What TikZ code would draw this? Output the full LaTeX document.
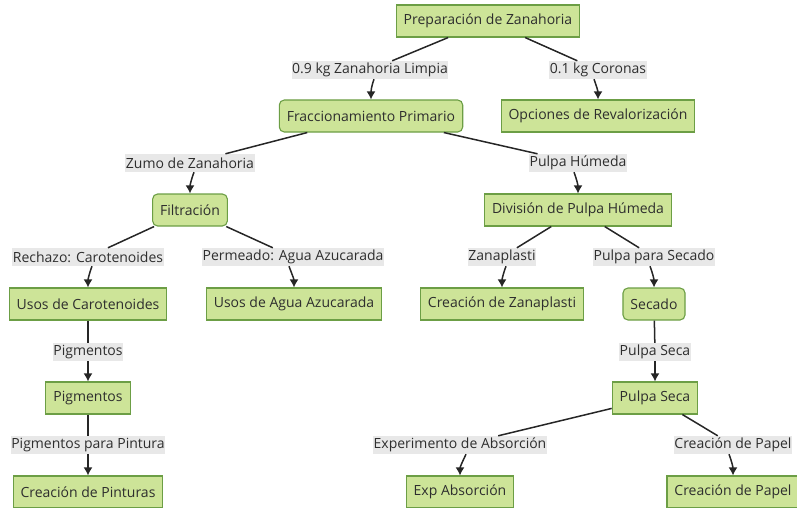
\documentclass[tikz,border=0pt]{standalone}
\usepackage{fontspec}
\setmainfont{Open Sans}
\usetikzlibrary{arrows.meta}
\definecolor{nfill}{HTML}{CDE498}
\definecolor{nborder}{HTML}{6C9E45}
\definecolor{lbg}{HTML}{E8E8E8}
\definecolor{txt}{HTML}{2E2E2E}
\begin{document}
\begin{tikzpicture}[x=1pt,y=1pt,
  box/.style={draw=nborder, fill=nfill, line width=1.1pt, minimum height=32pt, inner xsep=7.5pt, text=txt, font=\fontsize{14}{16}\selectfont},
  rbox/.style={box, rounded corners=5pt},
  lbl/.style={fill=lbg, inner xsep=0.5pt, inner ysep=0pt, minimum height=18pt, text=txt, font=\fontsize{14}{16}\selectfont},
  edge/.style={draw=black!85, line width=1.5pt},
  arr/.style={edge, -{Latex[length=8pt,width=9pt]}}]
\useasboundingbox (0,0) rectangle (797,-508);
% nodes
\node[box]  (prep)  at (488,-21)  {Preparación de Zanahoria};
\node[rbox] (frac)  at (371,-116) {Fraccionamiento Primario};
\node[box]  (opc)   at (598,-116) {Opciones de Revalorización};
\node[rbox] (filt)  at (190,-210) {Filtración};
\node[box]  (div)   at (578,-210) {División de Pulpa Húmeda};
\node[box]  (ucar)  at (88,-304)  {Usos de Carotenoides};
\node[box]  (uagua) at (294,-304) {Usos de Agua Azucarada};
\node[box]  (zana)  at (502,-304) {Creación de Zanaplasti};
\node[rbox] (sec)   at (654,-304) {Secado};
\node[box]  (pig)   at (88,-398)  {Pigmentos};
\node[box]  (ps)    at (655,-398) {Pulpa Seca};
\node[box]  (pint)  at (88,-492)  {Creación de Pinturas};
\node[box]  (exp)   at (460,-492) {Exp Absorción};
\node[box]  (pap)   at (733,-492) {Creación de Papel};
% edge labels
\node[lbl] (l1)  at (370,-70)  {0.9 kg Zanahoria Limpia};
\node[lbl] (l2)  at (598,-70)  {0.1 kg Coronas};
\node[lbl] (l3)  at (190,-163) {Zumo de Zanahoria};
\node[lbl] (l4)  at (578,-163) {Pulpa Húmeda};
\node[lbl] (l5)  at (88,-257)  {Rechazo: Carotenoides};
\node[lbl] (l6)  at (293,-257) {Permeado: Agua Azucarada};
\node[lbl] (l7)  at (502,-257) {Zanaplasti};
\node[lbl] (l8)  at (654,-257) {Pulpa para Secado};
\node[lbl] (l9)  at (88,-352)  {Pigmentos};
\node[lbl] (l10) at (655,-352) {Pulpa Seca};
\node[lbl] (l11) at (88,-445)  {Pigmentos para Pintura};
\node[lbl] (l12) at (460,-445) {Experimento de Absorción};
\node[lbl] (l13) at (733,-445) {Creación de Papel};
% connectors
\draw[edge] (prep) -- (l1);
\draw[arr] ([xshift=4pt]l1.south) to[out=-110,in=90] (frac.north);
\draw[edge] (prep) -- (l2);
\draw[arr] ([xshift=-4pt]l2.south) to[out=-70,in=90] (opc.north);
\draw[edge] (frac) -- (l3);
\draw[arr] ([xshift=4pt]l3.south) to[out=-110,in=90] (filt.north);
\draw[edge] (frac) -- (l4);
\draw[arr] ([xshift=-4pt]l4.south) to[out=-70,in=90] (div.north);
\draw[edge] (filt) -- (l5);
\draw[arr] ([xshift=4pt]l5.south) to[out=-110,in=90] (ucar.north);
\draw[edge] (filt) -- (l6);
\draw[arr] ([xshift=-4pt]l6.south) to[out=-70,in=90] (uagua.north);
\draw[edge] (div) -- (l7);
\draw[arr] ([xshift=4pt]l7.south) to[out=-110,in=90] (zana.north);
\draw[edge] (div) -- (l8);
\draw[arr] ([xshift=-4pt]l8.south) to[out=-70,in=90] (sec.north);
\draw[edge] (ucar) -- (l9);
\draw[arr] (l9) -- (pig);
\draw[edge] (sec) -- (l10);
\draw[arr] (l10) -- (ps);
\draw[edge] (pig) -- (l11);
\draw[arr] (l11) -- (pint);
\draw[edge] (ps) -- (l12);
\draw[arr] ([xshift=6pt]l12.south) to[out=-115,in=90] (exp.north);
\draw[edge] (ps) -- (l13);
\draw[arr] ([xshift=-4pt]l13.south) to[out=-70,in=90] (pap.north);
\end{tikzpicture}
\end{document}
